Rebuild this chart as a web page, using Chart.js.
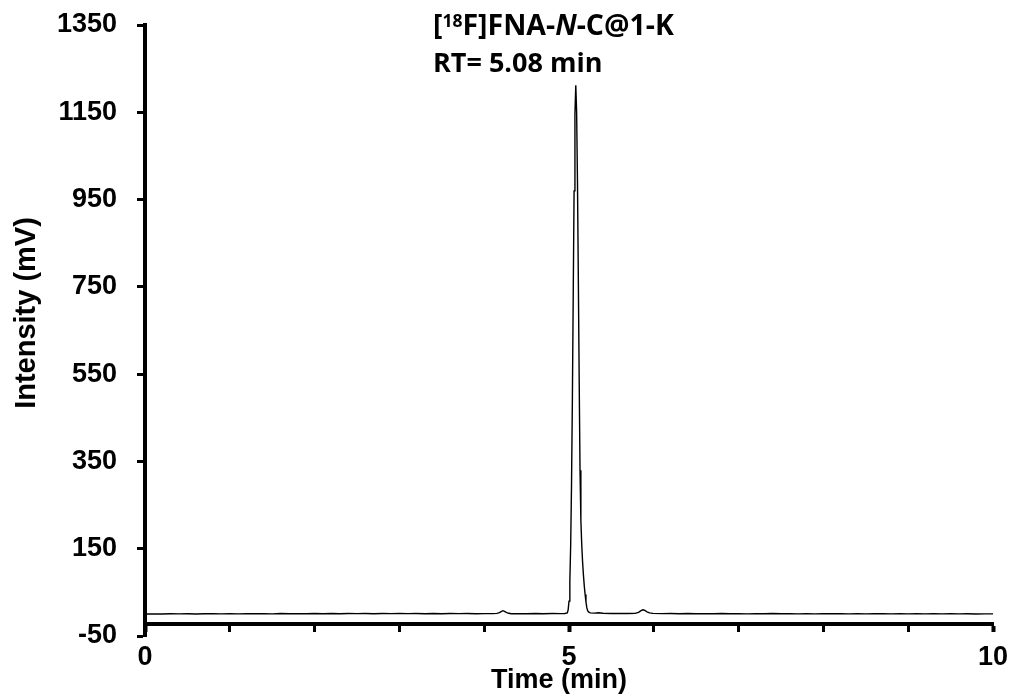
<!DOCTYPE html>
<html>
<head>
<meta charset="utf-8">
<script src="https://cdn.jsdelivr.net/npm/chart.js@4.4.1/dist/chart.umd.min.js"></script>
<style>
  html, body { margin: 0; padding: 0; background: #fff; }
  #chromatogram { display: block; }
</style>
</head>
<body>
<canvas id="chromatogram" width="1012" height="698"></canvas>
<script>
// radio-HPLC trace: retention time (min) vs detector signal (mV)
const timeMin = [
  0.0, 0.1, 0.2, 0.3, 0.4, 0.5, 0.6, 0.7, 0.8, 0.9,
  1.0, 1.1, 1.2, 1.3, 1.4, 1.5, 1.6, 1.7, 1.8, 1.9,
  2.0, 2.1, 2.2, 2.3, 2.4, 2.5, 2.6, 2.7, 2.8, 2.9,
  3.0, 3.1, 3.2, 3.3, 3.4, 3.5, 3.6, 3.7, 3.8, 3.9,
  4.0, 4.1, 4.15, 4.18, 4.20, 4.22, 4.24, 4.26, 4.29, 4.32,
  4.4, 4.5, 4.6, 4.7, 4.8, 4.9, 4.95,
  4.98, 4.99, 5.00, 5.01, 5.02, 5.03, 5.04, 5.05, 5.06, 5.07,
  5.08, 5.09, 5.10, 5.11, 5.12, 5.13, 5.14, 5.15, 5.16, 5.17,
  5.18, 5.19, 5.20, 5.21, 5.22, 5.23, 5.25, 5.30, 5.35, 5.40,
  5.5, 5.6, 5.7, 5.78, 5.82, 5.85, 5.87, 5.89, 5.92, 5.95, 5.99,
  6.1, 6.2, 6.3, 6.4, 6.5, 6.6, 6.7, 6.8, 6.9,
  7.0, 7.1, 7.2, 7.3, 7.4, 7.5, 7.6, 7.7, 7.8, 7.9,
  8.0, 8.1, 8.2, 8.3, 8.4, 8.5, 8.6, 8.7, 8.8, 8.9,
  9.0, 9.1, 9.2, 9.3, 9.4, 9.5, 9.6, 9.7, 9.8, 9.9, 10.0
];
const intensityMv = [
  0.5, 0.8, 0.3, 0.9, 0.6, 1.0, 0.4, 0.9, 1.2, 0.7,
  1.1, 0.6, 1.3, 0.9, 1.2, 0.8, 1.4, 1.0, 1.3, 0.9,
  1.5, 1.1, 1.4, 1.0, 1.6, 1.2, 1.5, 1.1, 1.6, 1.3,
  1.7, 1.2, 1.5, 1.0, 1.4, 1.1, 1.6, 1.2, 1.5, 1.0,
  1.3, 1.2, 1.8, 3.5, 6.0, 8.0, 6.5, 4.0, 2.0, 1.0,
  1.3, 0.9, 1.4, 1.0, 1.6, 1.2, 1.5,
  3, 10, 30, 75, 160, 300, 495, 735, 970, 1145,
  1212, 1150, 990, 770, 540, 330, 215, 160, 120, 90,
  65, 45, 28, 15, 8, 5, 3, 2.5, 3.2, 2.0,
  1.6, 1.9, 1.4, 1.8, 4.0, 8.0, 10.0, 9.0, 5.5, 3.0, 1.8,
  1.2, 1.6, 1.1, 1.4, 0.9, 1.3, 1.0, 1.5, 1.1,
  1.3, 0.8, 1.2, 0.9, 1.4, 1.0, 1.3, 0.8, 1.1, 0.7,
  1.2, 0.9, 1.3, 0.8, 1.1, 0.7, 1.0, 1.3, 0.8, 1.1,
  0.6, 1.0, 0.7, 1.2, 0.8, 1.0, 0.6, 0.9, 0.5, 0.8, 0.6
];

const yTickValues = [-50, 150, 350, 550, 750, 950, 1150, 1350];
const xTickValues = [0, 1, 2, 3, 4, 5, 6, 7, 8, 9, 10];
const xLabelValues = [0, 5, 10];
const xAxisCrossing = -23;

const compoundParts = [
  { text: '[', size: 28.5, style: 'normal', rise: 0 },
  { text: '18', size: 17.5, style: 'normal', rise: 8.5 },
  { text: 'F]FNA-', size: 28.5, style: 'normal', rise: 0 },
  { text: 'N', size: 28.5, style: 'italic', rise: 0 },
  { text: '-C@1-K', size: 28.5, style: 'normal', rise: 0 }
];
const retentionLabel = 'RT= 5.08 min';
const xTitle = 'Time (min)';
const yTitle = 'Intensity (mV)';

const axisFont = "'Liberation Sans', Arial, sans-serif";
const labelFont = "'Open Sans', 'Noto Sans', sans-serif";

const tracePoints = timeMin.map((t, i) => ({ x: t, y: intensityMv[i] }));

const annotationPlugin = {
  id: 'peakAnnotation',
  afterDraw(chart) {
    const ctx = chart.ctx;
    ctx.save();
    ctx.fillStyle = '#000';
    ctx.textBaseline = 'alphabetic';
    ctx.textAlign = 'left';

    // compound name with superscript mass number and italic N
    let x = 433;
    const base1 = 35;
    compoundParts.forEach(p => {
      ctx.font = `${p.style} bold ${p.size}px ${labelFont}`;
      ctx.fillText(p.text, x, base1 - p.rise);
      x += ctx.measureText(p.text).width;
    });
    ctx.font = `bold 27px ${labelFont}`;
    ctx.fillText(retentionLabel, 433, 72);

    // axis titles
    ctx.textAlign = 'center';
    ctx.font = `bold 27px ${axisFont}`;
    ctx.fillText(xTitle, 559, 688);

    ctx.translate(27, 313);
    ctx.rotate(-Math.PI / 2);
    ctx.textBaseline = 'middle';
    ctx.font = `bold 29px ${axisFont}`;
    ctx.fillText(yTitle, 0, 0);
    ctx.restore();
  }
};

const ctx = document.getElementById('chromatogram').getContext('2d');
new Chart(ctx, {
  type: 'line',
  data: {
    datasets: [{
      data: tracePoints,
      borderColor: '#000',
      borderWidth: 1.4,
      pointRadius: 0,
      tension: 0,
      fill: false
    }]
  },
  options: {
    responsive: false,
    animation: false,
    devicePixelRatio: 1,
    layout: { padding: { left: 0, right: 19, top: 25, bottom: 62 } },
    plugins: {
      legend: { display: false },
      tooltip: { enabled: false }
    },
    scales: {
      x: {
        type: 'linear',
        position: { y: xAxisCrossing },
        min: 0,
        max: 10,
        afterBuildTicks: scale => { scale.ticks = xTickValues.map(v => ({ value: v })); },
        afterFit: scale => { scale.paddingLeft = 0; scale.paddingRight = 0; scale.paddingTop = 0; scale.paddingBottom = 0; },
        grid: {
          drawOnChartArea: false,
          drawTicks: true,
          tickLength: 6,
          tickWidth: c => (xLabelValues.includes(c.tick && c.tick.value) ? 4 : 3),
          tickColor: '#000'
        },
        border: { display: true, width: 4, color: '#000' },
        ticks: {
          color: '#000',
          padding: 11,
          maxRotation: 0,
          autoSkip: false,
          font: { family: axisFont, size: 27, weight: 'bold' },
          callback: v => (xLabelValues.includes(v) ? String(v) : '')
        }
      },
      y: {
        type: 'linear',
        min: -50,
        max: 1350,
        afterBuildTicks: scale => { scale.ticks = yTickValues.map(v => ({ value: v })); },
        afterFit: scale => { scale.width = 145; scale.paddingTop = 0; scale.paddingBottom = 0; },
        grid: {
          drawOnChartArea: false,
          drawTicks: true,
          tickLength: 8,
          tickWidth: 3,
          tickColor: '#000'
        },
        border: { display: true, width: 4, color: '#000' },
        ticks: {
          color: '#000',
          padding: 20,
          autoSkip: false,
          font: { family: axisFont, size: 27, weight: 'bold' },
          callback: v => String(v)
        }
      }
    }
  },
  plugins: [annotationPlugin]
});
</script>
</body>
</html>
